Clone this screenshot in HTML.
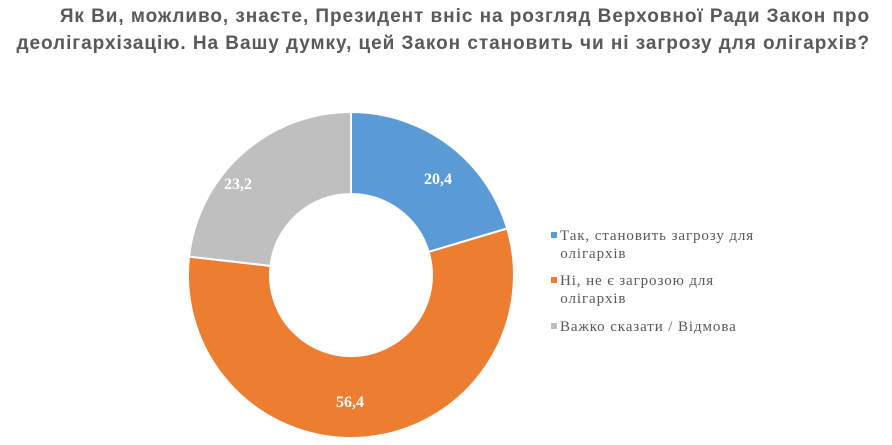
<!DOCTYPE html>
<html><head><meta charset="utf-8"><style>
body{margin:0;width:892px;height:445px;background:#fff;overflow:hidden;position:relative}
.t{position:absolute;right:22px;top:3px;width:880px;text-align:right;font:bold 19px/27px "Liberation Sans",Arial,sans-serif;letter-spacing:0.95px;color:#595959;white-space:nowrap}
.lg{position:absolute;left:551px;font:15px/18px "Liberation Serif",serif;letter-spacing:0.9px;color:#595959;white-space:nowrap}
.lg i{display:inline-block;width:6px;height:6px;margin-right:3px;vertical-align:2px}
</style></head><body>
<div class="t">Як Ви, можливо, знаєте, Президент вніс на розгляд Верховної Ради Закон про<br>деолігархізацію. На Вашу думку, цей Закон становить чи ні загрозу для олігархів?</div>
<svg width="892" height="445" style="position:absolute;left:0;top:0">
<g stroke="#fff" stroke-width="2">
<path d="M351,112 A163,163 0 0 1 507.2,228.5 L428.6,251.9 A81,81 0 0 0 351,194 Z" fill="#5b9bd5"/>
<path d="M507.2,228.5 A163,163 0 1 1 189,256.6 L270.5,265.9 A81,81 0 1 0 428.6,251.9 Z" fill="#ed7d31"/>
<path d="M189,256.6 A163,163 0 0 1 351,112 L351,194 A81,81 0 0 0 270.5,265.9 Z" fill="#bfbfbf"/>
</g>
<g font-family="Liberation Serif,serif" font-weight="bold" font-size="16" fill="#fff" text-anchor="middle">
<text x="438" y="184">20,4</text>
<text x="350" y="407">56,4</text>
<text x="238" y="189">23,2</text>
</g>
</svg>
<div class="lg" style="top:227px"><i style="background:#5b9bd5"></i>Так, становить загрозу для<br>&nbsp;&nbsp;олігархів</div>
<div class="lg" style="top:272px"><i style="background:#ed7d31"></i>Ні, не є загрозою для<br>&nbsp;&nbsp;олігархів</div>
<div class="lg" style="top:318px"><i style="background:#bfbfbf"></i>Важко сказати / Відмова</div>
</body></html>
